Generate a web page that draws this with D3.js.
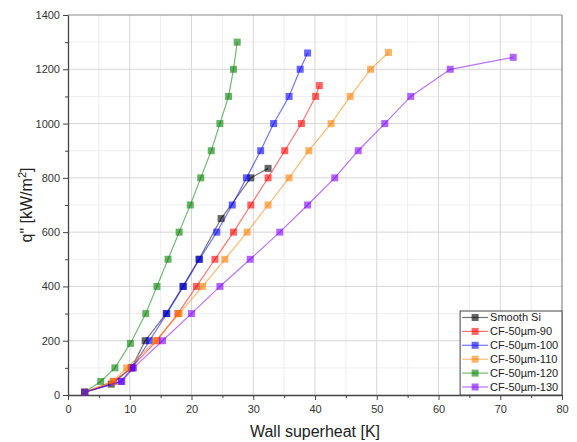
<!DOCTYPE html>
<html lang="en">
<head>
  <meta charset="UTF-8">
  <title>Heat flux vs wall superheat</title>
  <script src="https://d3js.org/d3.v7.min.js"></script>
  <style>
    body { margin: 0; background: #fff; font-family: "Liberation Sans", Arial, sans-serif; }
    .tick text { font-size: 11px; fill: #333; font-family: "Liberation Sans", Arial, sans-serif; }
    .axis-title { font-size: 16px; fill: #222; }
    .legend text { font-size: 11px; fill: #222; }
  </style>
</head>
<body>
  <svg width="577" height="442"></svg>

  <script>
    // data: [wall superheat K, heat flux kW/m2]
    const smoothSi = [[2.7,10],[7.0,40],[10.3,100],[12.5,200],[15.9,300],[18.6,400],[21.2,500],[24.8,650],[29.6,800],[32.4,835]];
    const cf90  = [[2.7,10],[7.4,50],[10.2,100],[14.4,200],[17.8,300],[20.8,400],[23.8,500],[26.8,600],[29.6,700],[32.4,800],[35.1,900],[37.8,1000],[40.1,1100],[40.7,1140]];
    const cf100 = [[2.7,10],[8.6,50],[10.4,100],[13.2,200],[16.0,300],[18.7,400],[21.3,500],[24.1,600],[26.6,700],[28.9,800],[31.2,900],[33.3,1000],[35.8,1100],[37.6,1200],[38.8,1260]];
    const cf110 = [[2.7,10],[7.3,50],[9.5,100],[14.2,200],[18.0,300],[21.8,400],[25.4,500],[29.0,600],[32.4,700],[35.8,800],[39.0,900],[42.6,1000],[45.7,1100],[49.0,1200],[51.9,1262]];
    const cf120 = [[2.7,10],[5.3,50],[7.6,100],[10.1,190],[12.6,300],[14.4,400],[16.2,500],[18.0,600],[19.8,700],[21.5,800],[23.2,900],[24.6,1000],[26.0,1100],[26.8,1200],[27.4,1300]];
    const cf130 = [[2.7,10],[8.7,50],[10.6,100],[15.3,200],[20.0,300],[24.6,400],[29.5,500],[34.3,600],[38.8,700],[43.2,800],[47.0,900],[51.3,1000],[55.5,1100],[61.9,1200],[72.1,1244]];

    const seriesNames  = ["Smooth Si", "CF-50\u00b5m-90", "CF-50\u00b5m-100", "CF-50\u00b5m-110", "CF-50\u00b5m-120", "CF-50\u00b5m-130"];
    const seriesData   = [smoothSi, cf90, cf100, cf110, cf120, cf130];
    const seriesColors = ["#000000", "#ff0000", "#0000ff", "#ff8000", "#008000", "#8000ff"];

    const xTicks = d3.range(0, 81, 10);
    const yTicks = d3.range(0, 1401, 200);

    const margin = { top: 15, right: 15, bottom: 47, left: 68 },
          width = 577 - margin.left - margin.right,
          height = 442 - margin.top - margin.bottom;

    const svg = d3.select("svg")
      .append("g")
      .attr("transform", `translate(${margin.left},${margin.top})`);

    const x = d3.scaleLinear().domain([0, 80]).range([0, width]);
    const y = d3.scaleLinear().domain([0, 1400]).range([height, 0]);

    // grid (minor then major)
    svg.append("g").selectAll("line")
      .data(d3.range(5, 80, 10))
      .join("line")
      .attr("x1", d => x(d)).attr("x2", d => x(d))
      .attr("y1", 0).attr("y2", height)
      .attr("stroke", "#eeeeee");
    svg.append("g").selectAll("line")
      .data(d3.range(100, 1400, 200))
      .join("line")
      .attr("y1", d => y(d)).attr("y2", d => y(d))
      .attr("x1", 0).attr("x2", width)
      .attr("stroke", "#eeeeee");
    svg.append("g").selectAll("line")
      .data(xTicks.slice(1, -1))
      .join("line")
      .attr("x1", d => x(d)).attr("x2", d => x(d))
      .attr("y1", 0).attr("y2", height)
      .attr("stroke", "#d6d6d6");
    svg.append("g").selectAll("line")
      .data(yTicks.slice(1, -1))
      .join("line")
      .attr("y1", d => y(d)).attr("y2", d => y(d))
      .attr("x1", 0).attr("x2", width)
      .attr("stroke", "#d6d6d6");

    // frame top / right
    svg.append("line").attr("x1", 0).attr("x2", width).attr("y1", 0).attr("y2", 0)
      .attr("stroke", "#888").attr("stroke-width", 1.2);
    svg.append("line").attr("x1", width).attr("x2", width).attr("y1", 0).attr("y2", height)
      .attr("stroke", "#888").attr("stroke-width", 1.2);

    // Axes
    const xAxis = svg.append("g")
      .attr("transform", `translate(0,${height})`)
      .call(d3.axisBottom(x).tickValues(xTicks).tickFormat(d3.format("d")).tickSize(5).tickSizeOuter(0));
    svg.append("g")
      .attr("transform", `translate(0,${height})`)
      .call(d3.axisBottom(x).tickValues(d3.range(5, 80, 10)).tickSize(3).tickFormat("").tickSizeOuter(0))
      .select(".domain").remove();

    const yAxis = svg.append("g")
      .call(d3.axisLeft(y).tickValues(yTicks).tickFormat(d3.format("d")).tickSize(5).tickSizeOuter(0));
    svg.append("g")
      .call(d3.axisLeft(y).tickValues(d3.range(100, 1400, 200)).tickSize(3).tickFormat("").tickSizeOuter(0))
      .select(".domain").remove();

    svg.selectAll(".domain").attr("stroke", "#444").attr("stroke-width", 1.3);
    svg.selectAll(".tick line").attr("stroke", "#444");
    xAxis.selectAll(".tick text").attr("dy", "0.9em");
    yAxis.selectAll(".tick text").attr("x", -8);

    // Labels
    svg.append("text")
      .attr("class", "axis-title")
      .attr("x", width / 2)
      .attr("y", height + 42)
      .attr("text-anchor", "middle")
      .text("Wall superheat [K]");

    const yTitle = svg.append("text")
      .attr("class", "axis-title")
      .attr("transform", "rotate(-90)")
      .attr("x", -height / 2)
      .attr("y", -36)
      .attr("text-anchor", "middle");
    yTitle.append("tspan").text("q\" [kW/m");
    yTitle.append("tspan").attr("dy", -6).attr("font-size", "11px").text("2");
    yTitle.append("tspan").attr("dy", 6).text("]");

    // Series
    const line = d3.line().x(d => x(d[0])).y(d => y(d[1]));

    seriesData.forEach((data, i) => {
      const g = svg.append("g");
      g.append("path")
        .datum(data)
        .attr("d", line)
        .attr("fill", "none")
        .attr("stroke", seriesColors[i])
        .attr("stroke-opacity", 0.55)
        .attr("stroke-width", 1.2);
      g.selectAll("rect")
        .data(data)
        .join("rect")
        .attr("x", d => x(d[0]) - 3.5)
        .attr("y", d => y(d[1]) - 3.5)
        .attr("width", 7)
        .attr("height", 7)
        .attr("fill", seriesColors[i])
        .attr("fill-opacity", 0.6);
    });

    // Legend
    const legend = svg.append("g")
      .attr("class", "legend")
      .attr("transform", `translate(${x(63.5)},${y(0) - 84})`);
    legend.append("rect")
      .attr("width", width - x(63.5))
      .attr("height", 84)
      .attr("fill", "#fff")
      .attr("stroke", "#444")
      .attr("stroke-width", 1);

    seriesNames.forEach((name, i) => {
      const row = legend.append("g").attr("transform", `translate(0,${6.5 + i * 13.9})`);
      row.append("line")
        .attr("x1", 2).attr("x2", 28)
        .attr("stroke", seriesColors[i])
        .attr("stroke-opacity", 0.55)
        .attr("stroke-width", 1.2);
      row.append("rect")
        .attr("x", 11.5).attr("y", -3.5)
        .attr("width", 7).attr("height", 7)
        .attr("fill", seriesColors[i])
        .attr("fill-opacity", 0.6);
      row.append("text")
        .attr("x", 30)
        .attr("dy", "0.35em")
        .text(name);
    });
  </script>
</body>
</html>
